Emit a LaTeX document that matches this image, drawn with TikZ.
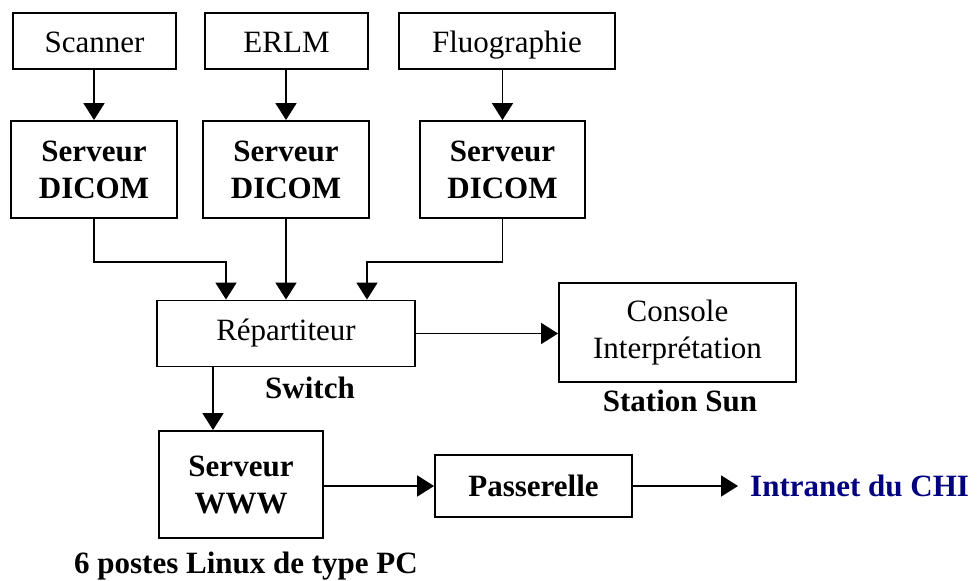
\documentclass[tikz,border=0pt]{standalone}
\usepackage{fontspec}
\setmainfont{Liberation Serif}
\usetikzlibrary{arrows.meta,calc}
\definecolor{navyblue}{RGB}{0,0,128}
\tikzset{
  box/.style={draw, line width=1.9pt, inner sep=0pt, align=center,
    font=\fontsize{31}{37}\selectfont},
  topbox/.style={box, minimum height=56pt, text height=22pt, text depth=0pt},
  boldbox/.style={box, font=\fontsize{31}{37}\selectfont\bfseries},
  lbl/.style={inner sep=0pt, font=\fontsize{31}{37}\selectfont\bfseries},
  conn/.style={line width=1.9pt},
  arr/.style={conn, -{Triangle[length=17pt,width=21pt]}},
}
\begin{document}
\begin{tikzpicture}[x=1pt,y=-1pt]
\useasboundingbox (0,0) rectangle (978,581);
% top sources
\node[topbox, minimum width=163pt] (scan) at (94.5,41) {Scanner};
\node[topbox, minimum width=163pt] (erlm) at (286.5,41) {ERLM};
\node[topbox, minimum width=216pt] (fluo) at (507,41) {Fluographie};
% DICOM servers
\node[boldbox, minimum width=166pt, minimum height=97pt] (srv1) at (94,169.5) {Serveur\\DICOM};
\node[boldbox, minimum width=166pt, minimum height=97pt] (srv2) at (286,169.5) {Serveur\\DICOM};
\node[boldbox, minimum width=165pt, minimum height=97pt] (srv3) at (502.5,169.5) {Serveur\\DICOM};
% switch
\node[box, minimum width=258pt, minimum height=66pt] (rep) at (286,333.5) {Répartiteur};
\node[lbl, anchor=base] (sw) at (310,398) {Switch};
% console
\node[box, minimum width=237pt, minimum height=99pt] (cons) at (677.5,332.5) {Console\\Interprétation};
\node[lbl, anchor=base] (sun) at (680,411) {Station Sun};
% www server
\node[boldbox, minimum width=164pt, minimum height=107pt] (www) at (241,484.5) {Serveur\\WWW};
\node[lbl, anchor=base] (linux) at (246,573) {6 postes Linux de type PC};
% gateway
\node[boldbox, minimum width=197pt, minimum height=62pt] (pass) at (533.5,486) {Passerelle};
\node[lbl, anchor=west, inner xsep=12pt, text=navyblue] (intr) at (738,486) {Intranet du CHI};
% junction points
\coordinate (m1) at (226,262);
\coordinate (m3) at (367,262);
% connectors
\draw[arr] (scan.south -| srv1.north) -- (srv1.north);
\draw[arr] (erlm.south -| srv2.north) -- (srv2.north);
\draw[arr] (fluo.south -| srv3.north) -- (srv3.north);
\draw[arr] (srv1.south) |- (m1) -- (m1 |- rep.north);
\draw[arr] (srv2.south) -- (rep.north);
\draw[arr] (srv3.south) |- (m3) -- (m3 |- rep.north);
\draw[arr] (rep.east) -- (rep.east -| cons.west);
\draw[arr] (rep.south -| 213,0) -- (www.north -| 213,0);
\draw[arr] (pass.west -| www.east) -- (pass.west);
\draw[arr] (pass.east) -- (intr.west);
\end{tikzpicture}
\end{document}
